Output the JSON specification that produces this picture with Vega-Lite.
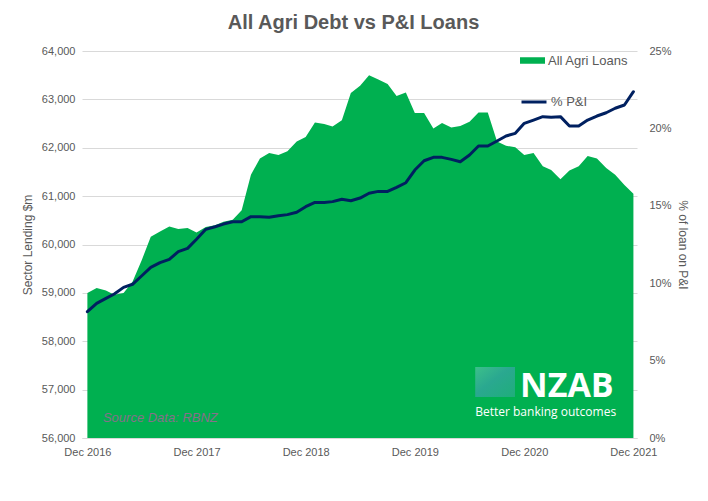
{
  "$schema": "https://vega.github.io/schema/vega-lite/v6.json",
  "width": 555,
  "height": 387,
  "autosize": {"type": "none"},
  "padding": {"left": 82, "top": 51, "right": 71, "bottom": 63},
  "background": "white",
  "title": {
    "text": "All Agri Debt vs P&I Loans",
    "fontSize": 20,
    "fontWeight": "bold",
    "color": "#595959",
    "font": "Liberation Sans",
    "anchor": "middle",
    "frame": "group",
    "baseline": "alphabetic",
    "offset": -4,
    "dx": -6
  },
  "config": {
    "view": {"stroke": null},
    "font": "Liberation Sans",
    "axis": {
      "labelFont": "Liberation Sans",
      "labelFontSize": 11,
      "labelColor": "#595959",
      "titleFont": "Liberation Sans",
      "titleFontSize": 12,
      "titleFontWeight": "normal",
      "titleColor": "#595959",
      "ticks": false
    },
    "legend": {
      "labelFont": "Liberation Sans",
      "labelFontSize": 13,
      "labelColor": "#595959",
      "padding": 0,
      "title": null
    }
  },
  "datasets": {
    "series": [
      {"date": "2016-12-01", "loans": 59000, "pandi": 8.16},
      {"date": "2017-01-01", "loans": 59100, "pandi": 8.70},
      {"date": "2017-02-01", "loans": 59050, "pandi": 9.02},
      {"date": "2017-03-01", "loans": 58960, "pandi": 9.30},
      {"date": "2017-04-01", "loans": 59000, "pandi": 9.73},
      {"date": "2017-05-01", "loans": 59230, "pandi": 9.93},
      {"date": "2017-06-01", "loans": 59680, "pandi": 10.48},
      {"date": "2017-07-01", "loans": 60160, "pandi": 11.02},
      {"date": "2017-08-01", "loans": 60270, "pandi": 11.33},
      {"date": "2017-09-01", "loans": 60370, "pandi": 11.54},
      {"date": "2017-10-01", "loans": 60320, "pandi": 12.04},
      {"date": "2017-11-01", "loans": 60340, "pandi": 12.25},
      {"date": "2017-12-01", "loans": 60250, "pandi": 12.84},
      {"date": "2018-01-01", "loans": 60360, "pandi": 13.48},
      {"date": "2018-02-01", "loans": 60400, "pandi": 13.65},
      {"date": "2018-03-01", "loans": 60470, "pandi": 13.82},
      {"date": "2018-04-01", "loans": 60510, "pandi": 13.97},
      {"date": "2018-05-01", "loans": 60710, "pandi": 13.97},
      {"date": "2018-06-01", "loans": 61440, "pandi": 14.30},
      {"date": "2018-07-01", "loans": 61780, "pandi": 14.30},
      {"date": "2018-08-01", "loans": 61890, "pandi": 14.26},
      {"date": "2018-09-01", "loans": 61850, "pandi": 14.36},
      {"date": "2018-10-01", "loans": 61930, "pandi": 14.43},
      {"date": "2018-11-01", "loans": 62130, "pandi": 14.58},
      {"date": "2018-12-01", "loans": 62220, "pandi": 14.94},
      {"date": "2019-01-01", "loans": 62520, "pandi": 15.22},
      {"date": "2019-02-01", "loans": 62490, "pandi": 15.22},
      {"date": "2019-03-01", "loans": 62440, "pandi": 15.27},
      {"date": "2019-04-01", "loans": 62570, "pandi": 15.42},
      {"date": "2019-05-01", "loans": 63130, "pandi": 15.33},
      {"date": "2019-06-01", "loans": 63280, "pandi": 15.50},
      {"date": "2019-07-01", "loans": 63500, "pandi": 15.81},
      {"date": "2019-08-01", "loans": 63410, "pandi": 15.93},
      {"date": "2019-09-01", "loans": 63320, "pandi": 15.93},
      {"date": "2019-10-01", "loans": 63070, "pandi": 16.19},
      {"date": "2019-11-01", "loans": 63140, "pandi": 16.49},
      {"date": "2019-12-01", "loans": 62720, "pandi": 17.31},
      {"date": "2020-01-01", "loans": 62720, "pandi": 17.91},
      {"date": "2020-02-01", "loans": 62400, "pandi": 18.13},
      {"date": "2020-03-01", "loans": 62510, "pandi": 18.13},
      {"date": "2020-04-01", "loans": 62420, "pandi": 18.00},
      {"date": "2020-05-01", "loans": 62450, "pandi": 17.85},
      {"date": "2020-06-01", "loans": 62540, "pandi": 18.28},
      {"date": "2020-07-01", "loans": 62730, "pandi": 18.86},
      {"date": "2020-08-01", "loans": 62730, "pandi": 18.86},
      {"date": "2020-09-01", "loans": 62130, "pandi": 19.19},
      {"date": "2020-10-01", "loans": 62040, "pandi": 19.51},
      {"date": "2020-11-01", "loans": 62010, "pandi": 19.68},
      {"date": "2020-12-01", "loans": 61850, "pandi": 20.33},
      {"date": "2021-01-01", "loans": 61890, "pandi": 20.54},
      {"date": "2021-02-01", "loans": 61620, "pandi": 20.76},
      {"date": "2021-03-01", "loans": 61540, "pandi": 20.72},
      {"date": "2021-04-01", "loans": 61350, "pandi": 20.76},
      {"date": "2021-05-01", "loans": 61530, "pandi": 20.16},
      {"date": "2021-06-01", "loans": 61620, "pandi": 20.16},
      {"date": "2021-07-01", "loans": 61830, "pandi": 20.54},
      {"date": "2021-08-01", "loans": 61780, "pandi": 20.80},
      {"date": "2021-09-01", "loans": 61580, "pandi": 21.01},
      {"date": "2021-10-01", "loans": 61440, "pandi": 21.30},
      {"date": "2021-11-01", "loans": 61230, "pandi": 21.51},
      {"date": "2021-12-01", "loans": 61050, "pandi": 22.37}
    ],
    "logo": [{"label": "NZAB"}],
    "tagline": [{"label": "Better banking outcomes"}],
    "source": [{"label": "Source Data: RBNZ"}]
  },
  "layer": [
    {
      "layer": [
        {
          "data": {"name": "series"},
          "mark": {"type": "area", "clip": true},
          "encoding": {
            "x": {
              "field": "date",
              "type": "temporal",
              "title": null,
              "scale": {
                "type": "utc",
                "domain": [
                  {"year": 2016, "month": 11, "date": 13, "utc": true},
                  {"year": 2021, "month": 12, "date": 13, "utc": true}
                ]
              },
              "axis": {
                "values": [
                  {"year": 2016, "month": 12, "date": 1, "utc": true},
                  {"year": 2017, "month": 12, "date": 1, "utc": true},
                  {"year": 2018, "month": 12, "date": 1, "utc": true},
                  {"year": 2019, "month": 12, "date": 1, "utc": true},
                  {"year": 2020, "month": 12, "date": 1, "utc": true},
                  {"year": 2021, "month": 12, "date": 1, "utc": true}
                ],
                "format": "%b %Y",
                "grid": false,
                "domain": true,
                "domainColor": "#d9d9d9",
                "domainWidth": 1,
                "labelPadding": 8
              }
            },
            "y": {
              "field": "loans",
              "type": "quantitative",
              "title": "Sector Lending $m",
              "scale": {"domain": [56000, 64000], "zero": false, "nice": false},
              "axis": {
                "values": [56000, 57000, 58000, 59000, 60000, 61000, 62000, 63000, 64000],
                "format": ",d",
                "grid": true,
                "gridColor": "#d9d9d9",
                "gridWidth": 1,
                "domain": false,
                "labelPadding": 7,
                "titlePadding": 7
              }
            },
            "y2": {"datum": 56000},
            "fill": {
              "datum": "All Agri Loans",
              "type": "nominal",
              "scale": {"range": ["#00b050"]},
              "legend": {
                "orient": "none",
                "legendX": 438,
                "legendY": -3,
                "symbolType": "M-1,-0.26H1V0.26H-1Z",
                "symbolSize": 625,
                "symbolStrokeWidth": 0,
                "symbolOpacity": 1,
                "labelOffset": 3
              }
            }
          }
        },
        {
          "data": {"name": "logo"},
          "mark": {
            "type": "rect",
            "fill": {
              "gradient": "linear",
              "x1": 0, "y1": 0, "x2": 1, "y2": 1,
              "stops": [
                {"offset": 0, "color": "#3cc08a"},
                {"offset": 0.45, "color": "#2aa890"},
                {"offset": 1, "color": "#1fae7a"}
              ]
            }
          },
          "encoding": {
            "x": {"datum": {"year": 2020, "month": 6, "date": 20, "utc": true}, "type": "temporal", "title": null},
            "x2": {"datum": {"year": 2020, "month": 10, "date": 31, "utc": true}},
            "y": {"datum": 57468, "type": "quantitative", "title": "Sector Lending $m"},
            "y2": {"datum": 56848}
          }
        },
        {
          "data": {"name": "logo"},
          "mark": {
            "type": "text",
            "font": "Open Sans",
            "fontWeight": "bold",
            "fontSize": 34,
            "color": "white",
            "align": "left",
            "baseline": "alphabetic"
          },
          "encoding": {
            "text": {"field": "label"},
            "x": {"datum": {"year": 2020, "month": 11, "date": 17, "utc": true}, "type": "temporal", "title": null},
            "y": {"datum": 56848, "type": "quantitative", "title": "Sector Lending $m"}
          }
        },
        {
          "data": {"name": "tagline"},
          "mark": {
            "type": "text",
            "font": "Open Sans",
            "fontSize": 12,
            "color": "white",
            "align": "left",
            "baseline": "alphabetic"
          },
          "encoding": {
            "text": {"field": "label"},
            "x": {"datum": {"year": 2020, "month": 6, "date": 20, "utc": true}, "type": "temporal", "title": null},
            "y": {"datum": 56460, "type": "quantitative", "title": "Sector Lending $m"}
          }
        },
        {
          "data": {"name": "source"},
          "mark": {
            "type": "text",
            "font": "Liberation Sans",
            "fontStyle": "italic",
            "fontSize": 13,
            "color": "#86708a",
            "align": "left",
            "baseline": "alphabetic"
          },
          "encoding": {
            "text": {"field": "label"},
            "x": {"datum": {"year": 2017, "month": 1, "date": 22, "utc": true}, "type": "temporal", "title": null},
            "y": {"datum": 56331, "type": "quantitative", "title": "Sector Lending $m"}
          }
        }
      ]
    },
    {
      "data": {"name": "series"},
      "mark": {"type": "line", "strokeWidth": 3, "strokeJoin": "round", "strokeCap": "round"},
      "encoding": {
        "x": {"field": "date", "type": "temporal", "title": null},
        "y": {
          "field": "pandi",
          "type": "quantitative",
          "title": "% of loan on P&I",
          "scale": {"domain": [0, 25], "nice": false},
          "axis": {
            "orient": "right",
            "values": [0, 5, 10, 15, 20, 25],
            "labelExpr": "datum.value + '%'",
            "grid": false,
            "domain": false,
            "labelPadding": 12,
            "titlePadding": 4
          }
        },
        "stroke": {
          "datum": "% P&I",
          "type": "nominal",
          "scale": {"range": ["#002060"]},
          "legend": {
            "orient": "none",
            "legendX": 438,
            "legendY": 37,
            "symbolType": "stroke",
            "symbolSize": 625,
            "symbolStrokeWidth": 3,
            "labelOffset": 3
          }
        }
      }
    }
  ],
  "resolve": {"scale": {"y": "independent", "fill": "independent", "stroke": "independent"}}
}
